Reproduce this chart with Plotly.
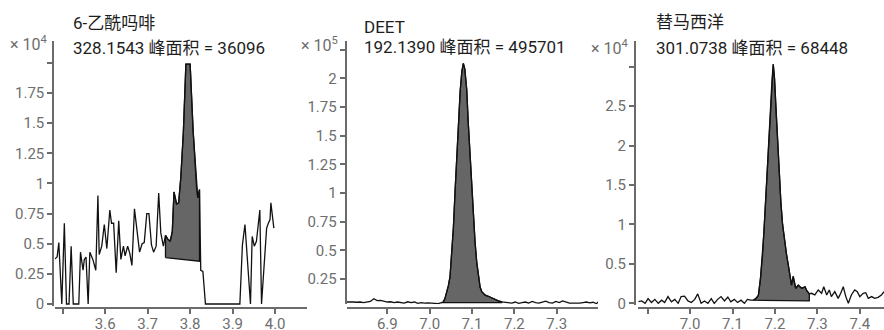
import plotly.graph_objects as go

# ---------------- data (intensity in units of the axis multiplier) ----------------
# 6-乙酰吗啡, ×10^4
t1 = [3.480, 3.487, 3.491, 3.498, 3.504, 3.509, 3.515, 3.520, 3.525, 3.533, 3.538, 3.542,
      3.548, 3.551, 3.555, 3.560, 3.564, 3.571, 3.578, 3.583, 3.586, 3.592, 3.598, 3.604,
      3.611, 3.615, 3.620, 3.626, 3.632, 3.637, 3.643, 3.647, 3.653, 3.658, 3.663, 3.669,
      3.675, 3.681, 3.687, 3.692, 3.698, 3.703, 3.709, 3.714, 3.720, 3.726, 3.731, 3.737,
      3.742, 3.747, 3.753, 3.758, 3.762, 3.768, 3.773, 3.778, 3.784, 3.790, 3.800, 3.807,
      3.815, 3.818, 3.822, 3.825, 3.830, 3.836, 3.917, 3.923, 3.929, 3.935, 3.942, 3.946,
      3.951, 3.956, 3.964, 3.968, 3.976, 3.980, 3.984, 3.988, 3.990, 3.994, 3.997]
v1 = [0.37, 0.39, 0.51, 0.00, 0.67, 0.00, 0.00, 0.48, 0.00, 0.00, 0.00, 0.43,
      0.28, 0.37, 0.39, 0.00, 0.43, 0.37, 0.28, 0.90, 0.41, 0.48, 0.66, 0.46,
      0.78, 0.67, 0.67, 0.26, 0.69, 0.37, 0.48, 0.40, 0.48, 0.42, 0.32, 0.79,
      0.59, 0.43, 0.50, 0.51, 0.75, 0.75, 0.49, 0.43, 0.48, 0.92, 0.59, 0.48,
      0.57, 0.54, 0.52, 0.60, 0.93, 0.83, 0.84, 1.05, 1.42, 1.99, 1.99, 1.44,
      0.97, 0.88, 0.95, 0.28, 0.27, 0.00, 0.00, 0.49, 0.66, 0.31, 0.00, 0.56,
      0.48, 0.52, 0.78, 0.00, 0.38, 0.63, 0.67, 0.70, 0.84, 0.72, 0.63]
base_t1 = [3.742, 3.822]
base_v1 = [0.385, 0.355]

# DEET, ×10^5
t2 = [6.804, 6.812, 6.820, 6.828, 6.836, 6.844, 6.852, 6.860, 6.868, 6.876, 6.884, 6.892,
      6.900, 6.908, 6.916, 6.924, 6.932, 6.940, 6.948, 6.956, 6.964, 6.972, 6.980, 6.988,
      6.996, 7.004, 7.012, 7.020, 7.028, 7.032, 7.036, 7.040, 7.044, 7.048, 7.052, 7.056,
      7.060, 7.064, 7.068, 7.072, 7.076, 7.0795, 7.083, 7.0875, 7.091, 7.0953, 7.099, 7.103,
      7.107, 7.111, 7.115, 7.119, 7.123, 7.127, 7.131, 7.1385, 7.146, 7.154, 7.162, 7.170,
      7.178, 7.186, 7.194, 7.202, 7.210, 7.218, 7.226, 7.234, 7.242, 7.250, 7.258, 7.266,
      7.274, 7.282, 7.290, 7.298, 7.306, 7.314, 7.322, 7.330, 7.338, 7.346, 7.354, 7.362,
      7.370, 7.378, 7.386, 7.394, 7.3975]
v2 = [0.050, 0.052, 0.050, 0.048, 0.050, 0.045, 0.050, 0.055, 0.078, 0.062, 0.065, 0.055,
      0.050, 0.052, 0.045, 0.050, 0.048, 0.040, 0.052, 0.045, 0.050, 0.038, 0.045, 0.040,
      0.042, 0.038, 0.040, 0.036, 0.045, 0.050, 0.080, 0.130, 0.190, 0.270, 0.450, 0.700,
      1.020, 1.350, 1.640, 1.890, 2.060, 2.130, 2.080, 1.900, 1.620, 1.320, 1.020, 0.760,
      0.580, 0.400, 0.260, 0.180, 0.140, 0.125, 0.110, 0.100, 0.085, 0.075, 0.060, 0.052,
      0.050, 0.045, 0.040, 0.050, 0.038, 0.045, 0.050, 0.040, 0.055, 0.045, 0.040, 0.050,
      0.058, 0.045, 0.040, 0.055, 0.045, 0.060, 0.050, 0.040, 0.040, 0.038, 0.040, 0.045,
      0.050, 0.042, 0.048, 0.035, 0.050]
base_t2 = [7.028, 7.170]
base_v2 = [0.044, 0.044]

# 替马西洋, ×10^4
t3 = [6.878, 6.886, 6.894, 6.901, 6.909, 6.917, 6.925, 6.933, 6.940, 6.948, 6.956, 6.964,
      6.972, 6.979, 6.987, 6.995, 7.003, 7.011, 7.018, 7.026, 7.034, 7.042, 7.050, 7.057,
      7.065, 7.073, 7.081, 7.089, 7.096, 7.104, 7.112, 7.120, 7.128, 7.135, 7.143, 7.149,
      7.153, 7.157, 7.161, 7.166, 7.171, 7.174, 7.178, 7.182, 7.186, 7.190, 7.193, 7.196,
      7.199, 7.202, 7.206, 7.210, 7.214, 7.218, 7.222, 7.227, 7.231, 7.235, 7.239, 7.243,
      7.246, 7.249, 7.252, 7.255, 7.259, 7.263, 7.267, 7.271, 7.275, 7.278, 7.281, 7.286,
      7.294, 7.302, 7.310, 7.315, 7.322, 7.328, 7.333, 7.341, 7.349, 7.355, 7.361, 7.367,
      7.373, 7.380, 7.388, 7.394, 7.400, 7.408, 7.414, 7.420, 7.428, 7.435, 7.443, 7.451,
      7.457]
v3 = [0.020, 0.030, 0.000, 0.060, 0.010, 0.050, 0.000, 0.040, 0.010, 0.085, 0.020, 0.050,
      0.000, 0.085, 0.090, 0.030, 0.010, 0.050, 0.120, 0.000, 0.030, 0.000, 0.060, 0.000,
      0.050, 0.085, 0.030, 0.080, 0.020, 0.050, 0.010, 0.040, 0.000, 0.050, 0.040, 0.040,
      0.050, 0.070, 0.100, 0.320, 0.620, 0.900, 1.300, 1.750, 2.150, 2.550, 2.820, 3.030,
      2.850, 2.500, 2.050, 1.620, 1.280, 1.000, 0.800, 0.630, 0.500, 0.380, 0.230, 0.340,
      0.240, 0.190, 0.210, 0.230, 0.210, 0.190, 0.200, 0.210, 0.160, 0.130, 0.120, 0.127,
      0.106, 0.169, 0.127, 0.210, 0.106, 0.169, 0.085, 0.148, 0.063, 0.127, 0.210, 0.085,
      0.000, 0.106, 0.169, 0.148, 0.085, 0.127, 0.135, 0.063, 0.085, 0.063, 0.076, 0.106,
      0.148]
base_t3 = [7.149, 7.281]
base_v3 = [0.040, 0.030]

titles = ["6-乙酰吗啡", "DEET", "替马西洋"]
subtitles = ["328.1543 峰面积 = 36096", "192.1390 峰面积 = 495701", "301.0738 峰面积 = 68448"]
exponents = ["4", "5", "4"]

# labelled ticks, plus unlabelled end ticks
x_ticks = [[3.6, 3.7, 3.8, 3.9, 4.0],
           [6.9, 7.0, 7.1, 7.2, 7.3],
           [7.0, 7.1, 7.2, 7.3, 7.4]]
x_bare = [[3.5], [], [6.9]]
y_ticks = [[0, 0.25, 0.5, 0.75, 1, 1.25, 1.5, 1.75],
           [0.25, 0.5, 0.75, 1, 1.25, 1.5, 1.75, 2],
           [0, 0.5, 1, 1.5, 2, 2.5]]
y_labels = [["0", "0.25", "0.5", "0.75", "1", "1.25", "1.5", "1.75"],
            ["0.25", "0.5", "0.75", "1", "1.25", "1.5", "1.75", "2"],
            ["0", "0.5", "1", "1.5", "2", "2.5"]]
y_bare = [[2.0], [2.25], [3.0]]

# ---------------- layout geometry (pixels in an 884 x 330 canvas) ----------------
W, H = 884, 330
x_dom_px = [(55, 307), (346.7, 598), (638.3, 884)]
x_ranges = [(3.482, 4.075), (6.804, 7.3975), (6.878, 7.457)]
y_axis_px = [53.3, 345.7, 635]
y_dom_px = [(305.8, 41.3), (304.3, 40.7), (304.5, 41.4)]
y_ranges = [(-0.015, 2.18), (0.03, 2.328), (-0.015, 3.32)]
x_axis_y_px = 307.7

title_pos = [(70.5, 23.5), (362.0, 26.5), (653.5, 21.5)]
sub_pos = [(70.5, 48.0), (362.0, 47.3), (653.5, 48.3)]
exp_pos = [(50.0, 44.0), (339.5, 44.5), (631.0, 47.0)]

AXIS = "#6b6b6b"
TICKTXT = "#6e6e6e"
FONT = "Roboto, 'Noto Sans CJK SC', sans-serif"

fig = go.Figure()

series = [(t1, v1, base_t1, base_v1), (t2, v2, base_t2, base_v2), (t3, v3, base_t3, base_v3)]

for i, (t, v, bt, bv) in enumerate(series):
    sfx = "" if i == 0 else str(i + 1)
    # integrated peak region: trace between the integration bounds, closed by the baseline
    px = [bt[0]] + [tt for tt in t if bt[0] <= tt <= bt[1]] + [bt[1]]
    py = [bv[0]] + [vv for tt, vv in zip(t, v) if bt[0] <= tt <= bt[1]] + [bv[1]]
    fig.add_trace(go.Scatter(
        x=px + [bt[0]], y=py + [bv[0]], mode="lines", fill="toself",
        fillcolor="#666666", line=dict(color="#111111", width=1.3),
        xaxis="x" + sfx, yaxis="y" + sfx, hoverinfo="skip", showlegend=False))
    fig.add_trace(go.Scatter(
        x=t, y=v, mode="lines", line=dict(color="#111111", width=1.3),
        xaxis="x" + sfx, yaxis="y" + sfx, showlegend=False))

    axis_common = dict(
        showline=True, linecolor=AXIS, linewidth=2,
        ticks="outside", ticklen=5, tickwidth=2, tickcolor=AXIS,
        tickfont=dict(family=FONT, size=15, color=TICKTXT),
        showgrid=False, zeroline=False, tickmode="array", fixedrange=True,
        automargin=False,
    )
    minor_x = dict(tickmode="array", tickvals=x_bare[i], ticks="outside", ticklen=5,
                   tickwidth=2, tickcolor=AXIS, showgrid=False)
    minor_y = dict(tickmode="array", tickvals=y_bare[i], ticks="outside", ticklen=5,
                   tickwidth=2, tickcolor=AXIS, showgrid=False)
    fig.layout["xaxis" + sfx] = dict(
        axis_common,
        domain=[x_dom_px[i][0] / W, x_dom_px[i][1] / W],
        range=list(x_ranges[i]),
        tickvals=x_ticks[i], ticktext=[f"{x:.1f}" for x in x_ticks[i]],
        ticklabelstandoff=-3,
        minor=minor_x,
        anchor="free", position=1 - x_axis_y_px / H,
    )
    fig.layout["yaxis" + sfx] = dict(
        axis_common,
        domain=[1 - y_dom_px[i][0] / H, 1 - y_dom_px[i][1] / H],
        range=list(y_ranges[i]),
        tickvals=y_ticks[i], ticktext=y_labels[i],
        minor=minor_y,
        anchor="free", position=y_axis_px[i] / W,
    )

    fig.add_annotation(text=titles[i], x=title_pos[i][0] / W, y=1 - title_pos[i][1] / H,
                       xref="paper", yref="paper", xanchor="left", yanchor="middle",
                       showarrow=False, font=dict(family=FONT, size=17, color="#1e1e1e"))
    fig.add_annotation(text=subtitles[i], x=sub_pos[i][0] / W, y=1 - sub_pos[i][1] / H,
                       xref="paper", yref="paper", xanchor="left", yanchor="middle",
                       showarrow=False, font=dict(family=FONT, size=17, color="#1e1e1e"))
    fig.add_annotation(text="× 10<sup>" + exponents[i] + "</sup>",
                       x=exp_pos[i][0] / W, y=1 - exp_pos[i][1] / H,
                       xref="paper", yref="paper", xanchor="right", yanchor="middle",
                       showarrow=False, font=dict(family=FONT, size=16, color=TICKTXT))

fig.update_layout(
    width=W, height=H, autosize=False,
    margin=dict(l=0, r=0, t=0, b=0, autoexpand=False),
    paper_bgcolor="white", plot_bgcolor="white",
    showlegend=False,
)

fig.write_html("out.html", config={"displayModeBar": False, "responsive": False})
